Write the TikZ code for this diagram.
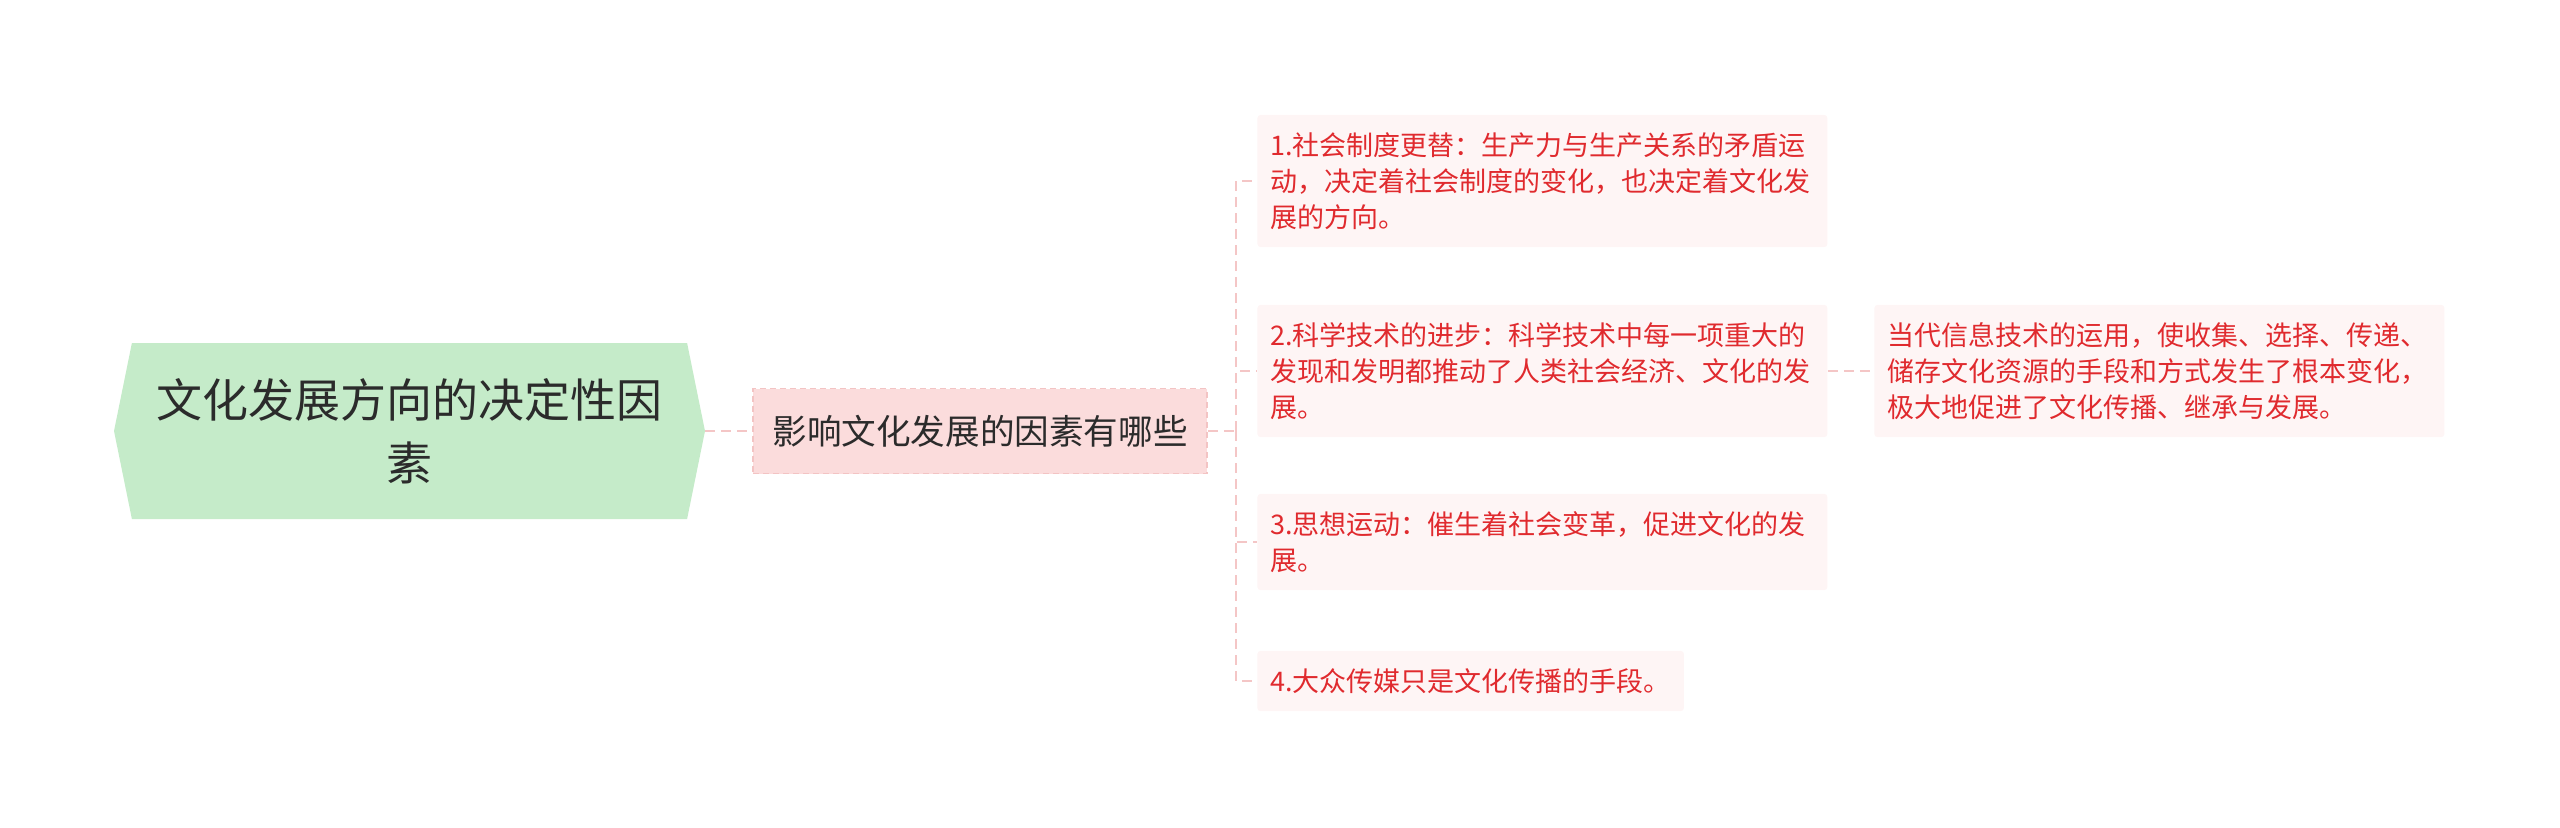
\documentclass[tikz,border=0pt]{standalone}
\usepackage{fontspec}
\setmainfont{Noto Sans CJK SC}
\usetikzlibrary{shapes.symbols}

\definecolor{rootgreen}{HTML}{C5EBC9}
\definecolor{topicpink}{HTML}{FBDCDC}
\definecolor{topicedge}{HTML}{F3C4C4}
\definecolor{leafpink}{HTML}{FEF5F5}
\definecolor{leafred}{HTML}{E02A2E}
\definecolor{linkpink}{HTML}{F4C6C6}
\definecolor{textdark}{HTML}{2B2B2B}

\begin{document}
\begin{tikzpicture}[
        x=0.5pt, y=-0.5pt,
        root/.style={signal, signal to=west and east, signal pointer angle=157, fill=rootgreen, text=textdark, minimum width=295.5pt, minimum height=88pt, inner sep=0pt, align=center, font=\fontsize{23}{31.5}\selectfont},
        topic/.style={rectangle, draw=topicedge, line width=0.75pt, dash pattern=on 3pt off 2pt, fill=topicpink, text=textdark, minimum width=227pt, minimum height=42.5pt, font=\fontsize{17.3}{20}\selectfont},
        leaf/.style={rectangle, fill=leafpink, text=leafred, rounded corners=1.5pt, anchor=west, align=left, inner xsep=6.5pt, inner ysep=8.75pt, font=\fontsize{13.5}{18}\selectfont},
        wide/.style={text width=272pt},
        link/.style={draw=linkpink, line width=1pt, dash pattern=on 5pt off 3pt}
    ]
        \useasboundingbox (0,0) rectangle (2560,827);

        % Root
        \node[root] (root) at (409.5,431) {文化发展方向的决定性因\\素};

        % Main topic
        \node[topic] (factors) at (980,431) {影响文化发展的因素有哪些};

        % Factors
        \node[leaf, wide] (social) at (1257,181) {1.社会制度更替：生产力与生产关系的矛盾运\\动，决定着社会制度的变化，也决定着文化发\\展的方向。};
        \node[leaf, wide] (science) at (1257,371) {2.科学技术的进步：科学技术中每一项重大的\\发现和发明都推动了人类社会经济、文化的发\\展。};
        \node[leaf, wide] (thought) at (1257,542) {3.思想运动：催生着社会变革，促进文化的发\\展。};
        \node[leaf] (media) at (1257,681) {4.大众传媒只是文化传播的手段。};

        % Detail of science
        \node[leaf, wide] (infotech) at (1874,371) {当代信息技术的运用，使收集、选择、传递、\\储存文化资源的手段和方式发生了根本变化，\\极大地促进了文化传播、继承与发展。};

        % Links
        \coordinate (fork) at (1236,431);
        \draw[link] (root.east) -- (factors.west);
        \draw[link] (factors.east) -- (fork);
        \foreach \leaf in {social,science,thought,media}
            \draw[link] (fork) |- (\leaf.west);
        \draw[link] (science.east) -- (infotech.west);

    \end{tikzpicture}
\end{document}
